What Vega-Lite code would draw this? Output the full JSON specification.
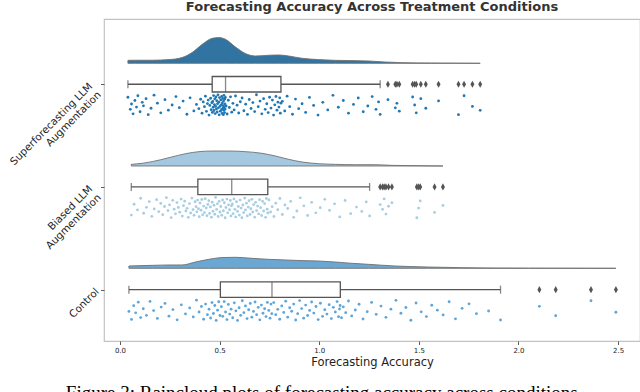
{
  "$schema": "https://vega.github.io/schema/vega-lite/v6.json",
  "background": "white",
  "padding": {"left": 7, "top": 0, "right": 0, "bottom": 0},
  "title": {"text": "Figure 3: Raincloud plots of forecasting accuracy across conditions.", "orient": "bottom", "font": "Liberation Serif", "fontSize": 19, "fontWeight": "normal", "color": "#000000", "offset": 16, "anchor": "middle"},
  "datasets": {
    "boxes": [
      {"c": "S", "lo": 0.04, "q1": 0.463, "med": 0.53, "q3": 0.808, "hi": 1.306},
      {"c": "B", "lo": 0.057, "q1": 0.391, "med": 0.561, "q3": 0.742, "hi": 1.253},
      {"c": "C", "lo": 0.045, "q1": 0.504, "med": 0.763, "q3": 1.106, "hi": 1.91}
    ],
    "outliers": [
      {"c": "S", "v": 1.345}, {"c": "S", "v": 1.382}, {"c": "S", "v": 1.39}, {"c": "S", "v": 1.402}, {"c": "S", "v": 1.469}, {"c": "S", "v": 1.479}, {"c": "S", "v": 1.487}, {"c": "S", "v": 1.51}, {"c": "S", "v": 1.535}, {"c": "S", "v": 1.599}, {"c": "S", "v": 1.699}, {"c": "S", "v": 1.727}, {"c": "S", "v": 1.769}, {"c": "S", "v": 1.808},
      {"c": "B", "v": 1.306}, {"c": "B", "v": 1.318}, {"c": "B", "v": 1.326}, {"c": "B", "v": 1.335}, {"c": "B", "v": 1.348}, {"c": "B", "v": 1.365}, {"c": "B", "v": 1.49}, {"c": "B", "v": 1.499}, {"c": "B", "v": 1.507}, {"c": "B", "v": 1.579}, {"c": "B", "v": 1.621},
      {"c": "C", "v": 2.105}, {"c": "C", "v": 2.187}, {"c": "C", "v": 2.364}, {"c": "C", "v": 2.489}
    ],
    "violin": [
      {"c": "S", "v": 0.04, "d": 0.23}, {"c": "S", "v": 0.078, "d": 0.24}, {"c": "S", "v": 0.162, "d": 0.24}, {"c": "S", "v": 0.246, "d": 0.29}, {"c": "S", "v": 0.312, "d": 0.45}, {"c": "S", "v": 0.362, "d": 0.84}, {"c": "S", "v": 0.413, "d": 1.48}, {"c": "S", "v": 0.463, "d": 1.95}, {"c": "S", "v": 0.496, "d": 2.01}, {"c": "S", "v": 0.529, "d": 1.88}, {"c": "S", "v": 0.58, "d": 1.27}, {"c": "S", "v": 0.63, "d": 0.76}, {"c": "S", "v": 0.68, "d": 0.57}, {"c": "S", "v": 0.747, "d": 0.63}, {"c": "S", "v": 0.797, "d": 0.65}, {"c": "S", "v": 0.847, "d": 0.57}, {"c": "S", "v": 0.914, "d": 0.39}, {"c": "S", "v": 0.997, "d": 0.29}, {"c": "S", "v": 1.081, "d": 0.23}, {"c": "S", "v": 1.164, "d": 0.21}, {"c": "S", "v": 1.248, "d": 0.18}, {"c": "S", "v": 1.331, "d": 0.1}, {"c": "S", "v": 1.415, "d": 0.05}, {"c": "S", "v": 1.565, "d": 0.02}, {"c": "S", "v": 1.808, "d": 0.0},
      {"c": "B", "v": 0.057, "d": 0.13}, {"c": "B", "v": 0.112, "d": 0.21}, {"c": "B", "v": 0.162, "d": 0.34}, {"c": "B", "v": 0.246, "d": 0.65}, {"c": "B", "v": 0.329, "d": 0.96}, {"c": "B", "v": 0.396, "d": 1.12}, {"c": "B", "v": 0.463, "d": 1.17}, {"c": "B", "v": 0.546, "d": 1.17}, {"c": "B", "v": 0.63, "d": 1.12}, {"c": "B", "v": 0.713, "d": 0.99}, {"c": "B", "v": 0.78, "d": 0.78}, {"c": "B", "v": 0.847, "d": 0.52}, {"c": "B", "v": 0.914, "d": 0.31}, {"c": "B", "v": 0.997, "d": 0.18}, {"c": "B", "v": 1.081, "d": 0.13}, {"c": "B", "v": 1.181, "d": 0.1}, {"c": "B", "v": 1.281, "d": 0.1}, {"c": "B", "v": 1.365, "d": 0.05}, {"c": "B", "v": 1.515, "d": 0.02}, {"c": "B", "v": 1.621, "d": 0.0},
      {"c": "C", "v": 0.045, "d": 0.18}, {"c": "C", "v": 0.162, "d": 0.23}, {"c": "C", "v": 0.246, "d": 0.26}, {"c": "C", "v": 0.312, "d": 0.26}, {"c": "C", "v": 0.379, "d": 0.49}, {"c": "C", "v": 0.446, "d": 0.7}, {"c": "C", "v": 0.513, "d": 0.84}, {"c": "C", "v": 0.58, "d": 0.86}, {"c": "C", "v": 0.663, "d": 0.78}, {"c": "C", "v": 0.747, "d": 0.7}, {"c": "C", "v": 0.83, "d": 0.65}, {"c": "C", "v": 0.914, "d": 0.6}, {"c": "C", "v": 0.997, "d": 0.57}, {"c": "C", "v": 1.081, "d": 0.49}, {"c": "C", "v": 1.164, "d": 0.39}, {"c": "C", "v": 1.248, "d": 0.31}, {"c": "C", "v": 1.381, "d": 0.18}, {"c": "C", "v": 1.549, "d": 0.1}, {"c": "C", "v": 1.716, "d": 0.05}, {"c": "C", "v": 1.883, "d": 0.02}, {"c": "C", "v": 2.05, "d": 0.01}, {"c": "C", "v": 2.489, "d": 0.0}
    ],
    "points": [
      {"c": "S", "v": 0.04, "j": 0.12}, {"c": "S", "v": 0.052, "j": 0.71}, {"c": "S", "v": 0.058, "j": 0.45}, {"c": "S", "v": 0.066, "j": 0.93}, {"c": "S", "v": 0.075, "j": 0.28}, {"c": "S", "v": 0.083, "j": 0.6}, {"c": "S", "v": 0.09, "j": 0.05}, {"c": "S", "v": 0.101, "j": 0.83}, {"c": "S", "v": 0.112, "j": 0.37}, {"c": "S", "v": 0.118, "j": 0.54},
      {"c": "S", "v": 0.131, "j": 0.19}, {"c": "S", "v": 0.142, "j": 0.97}, {"c": "S", "v": 0.156, "j": 0.66}, {"c": "S", "v": 0.171, "j": 0.02}, {"c": "S", "v": 0.188, "j": 0.41}, {"c": "S", "v": 0.205, "j": 0.88}, {"c": "S", "v": 0.226, "j": 0.24}, {"c": "S", "v": 0.243, "j": 0.75}, {"c": "S", "v": 0.262, "j": 0.5}, {"c": "S", "v": 0.281, "j": 0.09},
      {"c": "S", "v": 0.298, "j": 0.63}, {"c": "S", "v": 0.317, "j": 0.31}, {"c": "S", "v": 0.336, "j": 0.95}, {"c": "S", "v": 0.352, "j": 0.15}, {"c": "S", "v": 0.371, "j": 0.79}, {"c": "S", "v": 0.384, "j": 0.47}, {"c": "S", "v": 0.396, "j": 0.68}, {"c": "S", "v": 0.405, "j": 0.22}, {"c": "S", "v": 0.412, "j": 0.9}, {"c": "S", "v": 0.418, "j": 0.35},
      {"c": "S", "v": 0.424, "j": 0.58}, {"c": "S", "v": 0.429, "j": 0.07}, {"c": "S", "v": 0.434, "j": 0.81}, {"c": "S", "v": 0.439, "j": 0.43}, {"c": "S", "v": 0.443, "j": 0.26}, {"c": "S", "v": 0.447, "j": 0.99}, {"c": "S", "v": 0.451, "j": 0.52}, {"c": "S", "v": 0.455, "j": 0.17}, {"c": "S", "v": 0.458, "j": 0.73}, {"c": "S", "v": 0.461, "j": 0.39},
      {"c": "S", "v": 0.464, "j": 0.86}, {"c": "S", "v": 0.466, "j": 0.33}, {"c": "S", "v": 0.468, "j": 0.61}, {"c": "S", "v": 0.47, "j": 0.04}, {"c": "S", "v": 0.472, "j": 0.77}, {"c": "S", "v": 0.474, "j": 0.48}, {"c": "S", "v": 0.476, "j": 0.2}, {"c": "S", "v": 0.478, "j": 0.92}, {"c": "S", "v": 0.48, "j": 0.56}, {"c": "S", "v": 0.482, "j": 0.11},
      {"c": "S", "v": 0.484, "j": 0.69}, {"c": "S", "v": 0.486, "j": 0.29}, {"c": "S", "v": 0.488, "j": 0.84}, {"c": "S", "v": 0.49, "j": 0.44}, {"c": "S", "v": 0.492, "j": 0.01}, {"c": "S", "v": 0.494, "j": 0.64}, {"c": "S", "v": 0.496, "j": 0.36}, {"c": "S", "v": 0.498, "j": 0.98}, {"c": "S", "v": 0.5, "j": 0.14}, {"c": "S", "v": 0.502, "j": 0.57},
      {"c": "S", "v": 0.504, "j": 0.8}, {"c": "S", "v": 0.506, "j": 0.25}, {"c": "S", "v": 0.508, "j": 0.49}, {"c": "S", "v": 0.51, "j": 0.72}, {"c": "S", "v": 0.511, "j": 0.08}, {"c": "S", "v": 0.513, "j": 0.91}, {"c": "S", "v": 0.514, "j": 0.4}, {"c": "S", "v": 0.516, "j": 0.18}, {"c": "S", "v": 0.517, "j": 0.66}, {"c": "S", "v": 0.518, "j": 0.53},
      {"c": "S", "v": 0.519, "j": 0.97}, {"c": "S", "v": 0.52, "j": 0.3}, {"c": "S", "v": 0.521, "j": 0.76}, {"c": "S", "v": 0.522, "j": 0.03}, {"c": "S", "v": 0.524, "j": 0.59}, {"c": "S", "v": 0.525, "j": 0.87}, {"c": "S", "v": 0.526, "j": 0.21}, {"c": "S", "v": 0.527, "j": 0.45}, {"c": "S", "v": 0.528, "j": 0.7}, {"c": "S", "v": 0.529, "j": 0.13},
      {"c": "S", "v": 0.533, "j": 0.55}, {"c": "S", "v": 0.538, "j": 0.94}, {"c": "S", "v": 0.544, "j": 0.27}, {"c": "S", "v": 0.549, "j": 0.62}, {"c": "S", "v": 0.555, "j": 0.1}, {"c": "S", "v": 0.561, "j": 0.85}, {"c": "S", "v": 0.567, "j": 0.42}, {"c": "S", "v": 0.573, "j": 0.74}, {"c": "S", "v": 0.58, "j": 0.06}, {"c": "S", "v": 0.588, "j": 0.51},
      {"c": "S", "v": 0.596, "j": 0.89}, {"c": "S", "v": 0.604, "j": 0.34}, {"c": "S", "v": 0.613, "j": 0.16}, {"c": "S", "v": 0.622, "j": 0.78}, {"c": "S", "v": 0.631, "j": 0.46}, {"c": "S", "v": 0.64, "j": 0.96}, {"c": "S", "v": 0.649, "j": 0.23}, {"c": "S", "v": 0.658, "j": 0.67}, {"c": "S", "v": 0.667, "j": 0.38}, {"c": "S", "v": 0.676, "j": 0.82},
      {"c": "S", "v": 0.685, "j": 0.0}, {"c": "S", "v": 0.694, "j": 0.58}, {"c": "S", "v": 0.703, "j": 0.31}, {"c": "S", "v": 0.712, "j": 0.93}, {"c": "S", "v": 0.721, "j": 0.19}, {"c": "S", "v": 0.729, "j": 0.71}, {"c": "S", "v": 0.737, "j": 0.44}, {"c": "S", "v": 0.744, "j": 0.87}, {"c": "S", "v": 0.751, "j": 0.12}, {"c": "S", "v": 0.758, "j": 0.65},
      {"c": "S", "v": 0.765, "j": 0.26}, {"c": "S", "v": 0.771, "j": 0.99}, {"c": "S", "v": 0.777, "j": 0.49}, {"c": "S", "v": 0.783, "j": 0.08}, {"c": "S", "v": 0.788, "j": 0.75}, {"c": "S", "v": 0.793, "j": 0.36}, {"c": "S", "v": 0.798, "j": 0.6}, {"c": "S", "v": 0.802, "j": 0.15}, {"c": "S", "v": 0.805, "j": 0.9}, {"c": "S", "v": 0.808, "j": 0.41},
      {"c": "S", "v": 0.815, "j": 0.32}, {"c": "S", "v": 0.827, "j": 0.79}, {"c": "S", "v": 0.839, "j": 0.07}, {"c": "S", "v": 0.852, "j": 0.58}, {"c": "S", "v": 0.866, "j": 0.95}, {"c": "S", "v": 0.881, "j": 0.21}, {"c": "S", "v": 0.897, "j": 0.68}, {"c": "S", "v": 0.914, "j": 0.44}, {"c": "S", "v": 0.932, "j": 0.86}, {"c": "S", "v": 0.951, "j": 0.13},
      {"c": "S", "v": 0.972, "j": 0.52}, {"c": "S", "v": 0.994, "j": 0.99}, {"c": "S", "v": 1.018, "j": 0.37}, {"c": "S", "v": 1.043, "j": 0.74}, {"c": "S", "v": 1.069, "j": 0.03}, {"c": "S", "v": 1.096, "j": 0.61}, {"c": "S", "v": 1.121, "j": 0.28}, {"c": "S", "v": 1.147, "j": 0.9}, {"c": "S", "v": 1.172, "j": 0.47}, {"c": "S", "v": 1.196, "j": 0.16},
      {"c": "S", "v": 1.221, "j": 0.83}, {"c": "S", "v": 1.244, "j": 0.55}, {"c": "S", "v": 1.266, "j": 0.09}, {"c": "S", "v": 1.285, "j": 0.71}, {"c": "S", "v": 1.298, "j": 0.35}, {"c": "S", "v": 1.306, "j": 0.96}, {"c": "S", "v": 1.345, "j": 0.24}, {"c": "S", "v": 1.382, "j": 0.64}, {"c": "S", "v": 1.39, "j": 0.42}, {"c": "S", "v": 1.402, "j": 0.8},
      {"c": "S", "v": 1.469, "j": 0.11}, {"c": "S", "v": 1.479, "j": 0.5}, {"c": "S", "v": 1.487, "j": 0.88}, {"c": "S", "v": 1.51, "j": 0.19}, {"c": "S", "v": 1.535, "j": 0.66}, {"c": "S", "v": 1.599, "j": 0.3}, {"c": "S", "v": 1.699, "j": 0.97}, {"c": "S", "v": 1.727, "j": 0.05}, {"c": "S", "v": 1.769, "j": 0.57}, {"c": "S", "v": 1.808, "j": 0.76},
      {"c": "B", "v": 0.057, "j": 0.86}, {"c": "B", "v": 0.071, "j": 0.33}, {"c": "B", "v": 0.088, "j": 0.61}, {"c": "B", "v": 0.104, "j": 0.04}, {"c": "B", "v": 0.119, "j": 0.77}, {"c": "B", "v": 0.133, "j": 0.48}, {"c": "B", "v": 0.147, "j": 0.2}, {"c": "B", "v": 0.16, "j": 0.92}, {"c": "B", "v": 0.172, "j": 0.56}, {"c": "B", "v": 0.184, "j": 0.11},
      {"c": "B", "v": 0.195, "j": 0.69}, {"c": "B", "v": 0.205, "j": 0.29}, {"c": "B", "v": 0.215, "j": 0.84}, {"c": "B", "v": 0.224, "j": 0.44}, {"c": "B", "v": 0.233, "j": 0.01}, {"c": "B", "v": 0.241, "j": 0.64}, {"c": "B", "v": 0.249, "j": 0.36}, {"c": "B", "v": 0.257, "j": 0.98}, {"c": "B", "v": 0.265, "j": 0.14}, {"c": "B", "v": 0.272, "j": 0.57},
      {"c": "B", "v": 0.279, "j": 0.8}, {"c": "B", "v": 0.286, "j": 0.25}, {"c": "B", "v": 0.293, "j": 0.49}, {"c": "B", "v": 0.3, "j": 0.72}, {"c": "B", "v": 0.307, "j": 0.08}, {"c": "B", "v": 0.313, "j": 0.91}, {"c": "B", "v": 0.319, "j": 0.4}, {"c": "B", "v": 0.325, "j": 0.18}, {"c": "B", "v": 0.331, "j": 0.66}, {"c": "B", "v": 0.337, "j": 0.53},
      {"c": "B", "v": 0.343, "j": 0.97}, {"c": "B", "v": 0.349, "j": 0.3}, {"c": "B", "v": 0.355, "j": 0.76}, {"c": "B", "v": 0.361, "j": 0.03}, {"c": "B", "v": 0.367, "j": 0.59}, {"c": "B", "v": 0.372, "j": 0.87}, {"c": "B", "v": 0.377, "j": 0.21}, {"c": "B", "v": 0.382, "j": 0.45}, {"c": "B", "v": 0.386, "j": 0.7}, {"c": "B", "v": 0.39, "j": 0.13},
      {"c": "B", "v": 0.394, "j": 0.55}, {"c": "B", "v": 0.398, "j": 0.94}, {"c": "B", "v": 0.402, "j": 0.27}, {"c": "B", "v": 0.407, "j": 0.62}, {"c": "B", "v": 0.411, "j": 0.1}, {"c": "B", "v": 0.415, "j": 0.85}, {"c": "B", "v": 0.42, "j": 0.42}, {"c": "B", "v": 0.424, "j": 0.74}, {"c": "B", "v": 0.428, "j": 0.06}, {"c": "B", "v": 0.433, "j": 0.51},
      {"c": "B", "v": 0.437, "j": 0.89}, {"c": "B", "v": 0.441, "j": 0.34}, {"c": "B", "v": 0.446, "j": 0.16}, {"c": "B", "v": 0.45, "j": 0.78}, {"c": "B", "v": 0.454, "j": 0.46}, {"c": "B", "v": 0.459, "j": 0.96}, {"c": "B", "v": 0.463, "j": 0.23}, {"c": "B", "v": 0.467, "j": 0.67}, {"c": "B", "v": 0.472, "j": 0.38}, {"c": "B", "v": 0.476, "j": 0.82},
      {"c": "B", "v": 0.48, "j": 0.0}, {"c": "B", "v": 0.485, "j": 0.58}, {"c": "B", "v": 0.489, "j": 0.31}, {"c": "B", "v": 0.493, "j": 0.93}, {"c": "B", "v": 0.498, "j": 0.19}, {"c": "B", "v": 0.502, "j": 0.71}, {"c": "B", "v": 0.506, "j": 0.44}, {"c": "B", "v": 0.511, "j": 0.87}, {"c": "B", "v": 0.515, "j": 0.12}, {"c": "B", "v": 0.519, "j": 0.65},
      {"c": "B", "v": 0.524, "j": 0.26}, {"c": "B", "v": 0.528, "j": 0.99}, {"c": "B", "v": 0.532, "j": 0.49}, {"c": "B", "v": 0.537, "j": 0.08}, {"c": "B", "v": 0.541, "j": 0.75}, {"c": "B", "v": 0.545, "j": 0.36}, {"c": "B", "v": 0.55, "j": 0.6}, {"c": "B", "v": 0.554, "j": 0.15}, {"c": "B", "v": 0.557, "j": 0.9}, {"c": "B", "v": 0.56, "j": 0.41},
      {"c": "B", "v": 0.564, "j": 0.32}, {"c": "B", "v": 0.568, "j": 0.79}, {"c": "B", "v": 0.572, "j": 0.07}, {"c": "B", "v": 0.577, "j": 0.58}, {"c": "B", "v": 0.581, "j": 0.95}, {"c": "B", "v": 0.585, "j": 0.21}, {"c": "B", "v": 0.59, "j": 0.68}, {"c": "B", "v": 0.594, "j": 0.44}, {"c": "B", "v": 0.599, "j": 0.86}, {"c": "B", "v": 0.603, "j": 0.13},
      {"c": "B", "v": 0.608, "j": 0.52}, {"c": "B", "v": 0.612, "j": 0.99}, {"c": "B", "v": 0.617, "j": 0.37}, {"c": "B", "v": 0.621, "j": 0.74}, {"c": "B", "v": 0.626, "j": 0.03}, {"c": "B", "v": 0.63, "j": 0.61}, {"c": "B", "v": 0.635, "j": 0.28}, {"c": "B", "v": 0.639, "j": 0.9}, {"c": "B", "v": 0.644, "j": 0.47}, {"c": "B", "v": 0.648, "j": 0.16},
      {"c": "B", "v": 0.653, "j": 0.83}, {"c": "B", "v": 0.657, "j": 0.55}, {"c": "B", "v": 0.662, "j": 0.09}, {"c": "B", "v": 0.667, "j": 0.71}, {"c": "B", "v": 0.671, "j": 0.35}, {"c": "B", "v": 0.676, "j": 0.96}, {"c": "B", "v": 0.681, "j": 0.24}, {"c": "B", "v": 0.686, "j": 0.64}, {"c": "B", "v": 0.691, "j": 0.42}, {"c": "B", "v": 0.696, "j": 0.8},
      {"c": "B", "v": 0.701, "j": 0.11}, {"c": "B", "v": 0.706, "j": 0.5}, {"c": "B", "v": 0.711, "j": 0.88}, {"c": "B", "v": 0.716, "j": 0.19}, {"c": "B", "v": 0.721, "j": 0.66}, {"c": "B", "v": 0.726, "j": 0.3}, {"c": "B", "v": 0.731, "j": 0.97}, {"c": "B", "v": 0.735, "j": 0.05}, {"c": "B", "v": 0.739, "j": 0.57}, {"c": "B", "v": 0.742, "j": 0.76},
      {"c": "B", "v": 0.748, "j": 0.12}, {"c": "B", "v": 0.756, "j": 0.71}, {"c": "B", "v": 0.764, "j": 0.45}, {"c": "B", "v": 0.773, "j": 0.93}, {"c": "B", "v": 0.782, "j": 0.28}, {"c": "B", "v": 0.792, "j": 0.6}, {"c": "B", "v": 0.803, "j": 0.05}, {"c": "B", "v": 0.815, "j": 0.83}, {"c": "B", "v": 0.828, "j": 0.37}, {"c": "B", "v": 0.842, "j": 0.54},
      {"c": "B", "v": 0.857, "j": 0.19}, {"c": "B", "v": 0.872, "j": 0.97}, {"c": "B", "v": 0.888, "j": 0.66}, {"c": "B", "v": 0.905, "j": 0.02}, {"c": "B", "v": 0.923, "j": 0.41}, {"c": "B", "v": 0.942, "j": 0.88}, {"c": "B", "v": 0.962, "j": 0.24}, {"c": "B", "v": 0.983, "j": 0.75}, {"c": "B", "v": 1.005, "j": 0.5}, {"c": "B", "v": 1.028, "j": 0.09},
      {"c": "B", "v": 1.052, "j": 0.63}, {"c": "B", "v": 1.077, "j": 0.31}, {"c": "B", "v": 1.103, "j": 0.95}, {"c": "B", "v": 1.13, "j": 0.15}, {"c": "B", "v": 1.158, "j": 0.79}, {"c": "B", "v": 1.187, "j": 0.47}, {"c": "B", "v": 1.214, "j": 0.68}, {"c": "B", "v": 1.236, "j": 0.22}, {"c": "B", "v": 1.253, "j": 0.9}, {"c": "B", "v": 1.306, "j": 0.35},
      {"c": "B", "v": 1.318, "j": 0.58}, {"c": "B", "v": 1.326, "j": 0.07}, {"c": "B", "v": 1.335, "j": 0.81}, {"c": "B", "v": 1.348, "j": 0.43}, {"c": "B", "v": 1.365, "j": 0.26}, {"c": "B", "v": 1.49, "j": 0.99}, {"c": "B", "v": 1.499, "j": 0.52}, {"c": "B", "v": 1.507, "j": 0.17}, {"c": "B", "v": 1.579, "j": 0.73}, {"c": "B", "v": 1.621, "j": 0.39},
      {"c": "C", "v": 0.045, "j": 0.55}, {"c": "C", "v": 0.058, "j": 0.94}, {"c": "C", "v": 0.069, "j": 0.27}, {"c": "C", "v": 0.079, "j": 0.62}, {"c": "C", "v": 0.092, "j": 0.1}, {"c": "C", "v": 0.104, "j": 0.85}, {"c": "C", "v": 0.117, "j": 0.42}, {"c": "C", "v": 0.133, "j": 0.74}, {"c": "C", "v": 0.151, "j": 0.06}, {"c": "C", "v": 0.169, "j": 0.51},
      {"c": "C", "v": 0.188, "j": 0.89}, {"c": "C", "v": 0.207, "j": 0.34}, {"c": "C", "v": 0.226, "j": 0.16}, {"c": "C", "v": 0.246, "j": 0.78}, {"c": "C", "v": 0.266, "j": 0.46}, {"c": "C", "v": 0.287, "j": 0.96}, {"c": "C", "v": 0.308, "j": 0.23}, {"c": "C", "v": 0.329, "j": 0.67}, {"c": "C", "v": 0.35, "j": 0.38}, {"c": "C", "v": 0.368, "j": 0.82},
      {"c": "C", "v": 0.384, "j": 0.0}, {"c": "C", "v": 0.397, "j": 0.58}, {"c": "C", "v": 0.409, "j": 0.31}, {"c": "C", "v": 0.42, "j": 0.93}, {"c": "C", "v": 0.43, "j": 0.19}, {"c": "C", "v": 0.439, "j": 0.71}, {"c": "C", "v": 0.447, "j": 0.44}, {"c": "C", "v": 0.455, "j": 0.87}, {"c": "C", "v": 0.462, "j": 0.12}, {"c": "C", "v": 0.469, "j": 0.65},
      {"c": "C", "v": 0.476, "j": 0.26}, {"c": "C", "v": 0.483, "j": 0.99}, {"c": "C", "v": 0.49, "j": 0.49}, {"c": "C", "v": 0.496, "j": 0.08}, {"c": "C", "v": 0.502, "j": 0.75},
      {"c": "C", "v": 0.509, "j": 0.32}, {"c": "C", "v": 0.516, "j": 0.79}, {"c": "C", "v": 0.523, "j": 0.07}, {"c": "C", "v": 0.53, "j": 0.58}, {"c": "C", "v": 0.537, "j": 0.95}, {"c": "C", "v": 0.544, "j": 0.21}, {"c": "C", "v": 0.551, "j": 0.68}, {"c": "C", "v": 0.558, "j": 0.44}, {"c": "C", "v": 0.566, "j": 0.86}, {"c": "C", "v": 0.574, "j": 0.13},
      {"c": "C", "v": 0.582, "j": 0.52}, {"c": "C", "v": 0.59, "j": 0.99}, {"c": "C", "v": 0.598, "j": 0.37}, {"c": "C", "v": 0.606, "j": 0.74}, {"c": "C", "v": 0.614, "j": 0.03}, {"c": "C", "v": 0.622, "j": 0.61}, {"c": "C", "v": 0.63, "j": 0.28}, {"c": "C", "v": 0.638, "j": 0.9}, {"c": "C", "v": 0.646, "j": 0.47}, {"c": "C", "v": 0.654, "j": 0.16},
      {"c": "C", "v": 0.662, "j": 0.83}, {"c": "C", "v": 0.67, "j": 0.55}, {"c": "C", "v": 0.678, "j": 0.09}, {"c": "C", "v": 0.686, "j": 0.71}, {"c": "C", "v": 0.694, "j": 0.35}, {"c": "C", "v": 0.702, "j": 0.96}, {"c": "C", "v": 0.71, "j": 0.24}, {"c": "C", "v": 0.718, "j": 0.64}, {"c": "C", "v": 0.726, "j": 0.42}, {"c": "C", "v": 0.733, "j": 0.8},
      {"c": "C", "v": 0.74, "j": 0.11}, {"c": "C", "v": 0.747, "j": 0.5}, {"c": "C", "v": 0.753, "j": 0.88}, {"c": "C", "v": 0.758, "j": 0.19}, {"c": "C", "v": 0.762, "j": 0.66},
      {"c": "C", "v": 0.772, "j": 0.12}, {"c": "C", "v": 0.782, "j": 0.71}, {"c": "C", "v": 0.792, "j": 0.45}, {"c": "C", "v": 0.802, "j": 0.93}, {"c": "C", "v": 0.812, "j": 0.28}, {"c": "C", "v": 0.822, "j": 0.6}, {"c": "C", "v": 0.832, "j": 0.05}, {"c": "C", "v": 0.842, "j": 0.83}, {"c": "C", "v": 0.852, "j": 0.37}, {"c": "C", "v": 0.862, "j": 0.54},
      {"c": "C", "v": 0.872, "j": 0.19}, {"c": "C", "v": 0.882, "j": 0.97}, {"c": "C", "v": 0.892, "j": 0.66}, {"c": "C", "v": 0.902, "j": 0.02}, {"c": "C", "v": 0.912, "j": 0.41}, {"c": "C", "v": 0.922, "j": 0.88}, {"c": "C", "v": 0.932, "j": 0.24}, {"c": "C", "v": 0.942, "j": 0.75}, {"c": "C", "v": 0.952, "j": 0.5}, {"c": "C", "v": 0.962, "j": 0.09},
      {"c": "C", "v": 0.973, "j": 0.63}, {"c": "C", "v": 0.984, "j": 0.31}, {"c": "C", "v": 0.995, "j": 0.95}, {"c": "C", "v": 1.006, "j": 0.15}, {"c": "C", "v": 1.017, "j": 0.79}, {"c": "C", "v": 1.028, "j": 0.47}, {"c": "C", "v": 1.039, "j": 0.68}, {"c": "C", "v": 1.05, "j": 0.22}, {"c": "C", "v": 1.061, "j": 0.9}, {"c": "C", "v": 1.071, "j": 0.35},
      {"c": "C", "v": 1.081, "j": 0.58}, {"c": "C", "v": 1.09, "j": 0.07}, {"c": "C", "v": 1.097, "j": 0.81}, {"c": "C", "v": 1.102, "j": 0.43}, {"c": "C", "v": 1.105, "j": 0.26},
      {"c": "C", "v": 1.112, "j": 0.86}, {"c": "C", "v": 1.121, "j": 0.33}, {"c": "C", "v": 1.133, "j": 0.61}, {"c": "C", "v": 1.147, "j": 0.04}, {"c": "C", "v": 1.163, "j": 0.77}, {"c": "C", "v": 1.181, "j": 0.48}, {"c": "C", "v": 1.2, "j": 0.2}, {"c": "C", "v": 1.22, "j": 0.92}, {"c": "C", "v": 1.241, "j": 0.56}, {"c": "C", "v": 1.263, "j": 0.11},
      {"c": "C", "v": 1.286, "j": 0.69}, {"c": "C", "v": 1.31, "j": 0.29}, {"c": "C", "v": 1.335, "j": 0.84}, {"c": "C", "v": 1.36, "j": 0.44}, {"c": "C", "v": 1.385, "j": 0.01}, {"c": "C", "v": 1.41, "j": 0.64}, {"c": "C", "v": 1.435, "j": 0.36}, {"c": "C", "v": 1.46, "j": 0.98}, {"c": "C", "v": 1.486, "j": 0.14}, {"c": "C", "v": 1.512, "j": 0.57},
      {"c": "C", "v": 1.538, "j": 0.8}, {"c": "C", "v": 1.565, "j": 0.25}, {"c": "C", "v": 1.593, "j": 0.49}, {"c": "C", "v": 1.622, "j": 0.72}, {"c": "C", "v": 1.652, "j": 0.08}, {"c": "C", "v": 1.684, "j": 0.91}, {"c": "C", "v": 1.717, "j": 0.4}, {"c": "C", "v": 1.752, "j": 0.18}, {"c": "C", "v": 1.789, "j": 0.66}, {"c": "C", "v": 1.85, "j": 0.53},
      {"c": "C", "v": 1.91, "j": 0.97}, {"c": "C", "v": 2.105, "j": 0.3}, {"c": "C", "v": 2.187, "j": 0.76}, {"c": "C", "v": 2.364, "j": 0.03}, {"c": "C", "v": 2.489, "j": 0.59}
    ]
  },
  "vconcat": [
    {
      "width": 536,
      "height": 322,
      "title": {"text": "Forecasting Accuracy Across Treatment Conditions", "font": "DejaVu Sans", "fontSize": 13, "fontWeight": "bold", "color": "#333333", "anchor": "middle", "offset": 5},
      "layer": [
        {
          "layer": [
            {
              "data": {"name": "boxes"},
              "mark": {"type": "rule", "color": "#555555", "strokeWidth": 1.3},
              "encoding": {
                "x": {"field": "lo", "type": "quantitative", "scale": {"domain": [-0.08, 2.61], "nice": false, "zero": false}, "title": "Forecasting Accuracy", "axis": {"values": [0, 0.5, 1, 1.5, 2, 2.5], "format": ".1f", "labelFontSize": 7, "labelPadding": 1.5, "titleFontSize": 11.5, "titlePadding": 3}},
                "x2": {"field": "q1"},
                "y": {"field": "c", "type": "nominal", "title": null, "scale": {"type": "point", "domain": ["S", "B", "C"], "padding": 0.5677, "align": 0.5596}, "axis": {"labelAngle": -45, "labelAlign": "right", "labelBaseline": "middle", "labelFontSize": 10.3, "labelPadding": {"condition": {"test": "datum.value == 'C'", "value": 3.5}, "value": 10}, "labelLineHeight": 12, "labelExpr": "datum.value == 'S' ? ['Superforecasting LLM', 'Augmentation'] : datum.value == 'B' ? ['Biased LLM', 'Augmentation'] : 'Control'"}}
              }
            },
            {
              "data": {"name": "boxes"},
              "mark": {"type": "rule", "color": "#555555", "strokeWidth": 1.3},
              "encoding": {
                "x": {"field": "q3", "type": "quantitative", "scale": {"domain": [-0.08, 2.61], "nice": false, "zero": false}, "title": "Forecasting Accuracy"},
                "x2": {"field": "hi"},
                "y": {"field": "c", "type": "nominal", "title": null}
              }
            },
            {
              "data": {"name": "boxes"},
              "mark": {"type": "tick", "color": "#555555", "size": 8, "thickness": 1.3},
              "encoding": {
                "x": {"field": "lo", "type": "quantitative", "scale": {"domain": [-0.08, 2.61], "nice": false, "zero": false}, "title": "Forecasting Accuracy"},
                "y": {"field": "c", "type": "nominal", "title": null}
              }
            },
            {
              "data": {"name": "boxes"},
              "mark": {"type": "tick", "color": "#555555", "size": 8, "thickness": 1.3},
              "encoding": {
                "x": {"field": "hi", "type": "quantitative", "scale": {"domain": [-0.08, 2.61], "nice": false, "zero": false}, "title": "Forecasting Accuracy"},
                "y": {"field": "c", "type": "nominal", "title": null}
              }
            },
            {
              "data": {"name": "boxes"},
              "mark": {"type": "bar", "fill": "white", "stroke": "#555555", "strokeWidth": 1.3, "size": 15.5, "orient": "horizontal"},
              "encoding": {
                "x": {"field": "q1", "type": "quantitative", "scale": {"domain": [-0.08, 2.61], "nice": false, "zero": false}, "title": "Forecasting Accuracy"},
                "x2": {"field": "q3"},
                "y": {"field": "c", "type": "nominal", "title": null}
              }
            },
            {
              "data": {"name": "boxes"},
              "mark": {"type": "tick", "color": "#555555", "size": 15.5, "thickness": 1.3},
              "encoding": {
                "x": {"field": "med", "type": "quantitative", "scale": {"domain": [-0.08, 2.61], "nice": false, "zero": false}, "title": "Forecasting Accuracy"},
                "y": {"field": "c", "type": "nominal", "title": null}
              }
            },
            {
              "data": {"name": "outliers"},
              "mark": {"type": "point", "shape": "M0,-1L0.55,0L0,1L-0.55,0Z", "filled": true, "color": "#555555", "size": 52, "opacity": 1},
              "encoding": {
                "x": {"field": "v", "type": "quantitative", "scale": {"domain": [-0.08, 2.61], "nice": false, "zero": false}, "title": "Forecasting Accuracy"},
                "y": {"field": "c", "type": "nominal", "title": null}
              }
            },
            {
              "data": {"name": "points"},
              "mark": {"type": "circle", "size": 8, "opacity": 1},
              "encoding": {
                "x": {"field": "v", "type": "quantitative", "scale": {"domain": [-0.08, 2.61], "nice": false, "zero": false}, "title": "Forecasting Accuracy"},
                "y": {"field": "c", "type": "nominal", "title": null},
                "yOffset": {"field": "j", "type": "quantitative", "scale": {"domain": [0, 1], "range": [10.5, 31]}},
                "color": {"field": "c", "type": "nominal", "scale": {"domain": ["S", "B", "C"], "range": ["#1f77b4", "#a6cee3", "#5ea5d8"]}, "legend": null}
              }
            }
          ]
        },
        {
          "data": {"name": "violin"},
          "transform": [{"filter": "datum.c == 'S'"}],
          "mark": {"type": "area", "color": "#3274a1", "fillOpacity": 1, "stroke": "#707070", "strokeWidth": 0.9, "interpolate": "monotone"},
          "encoding": {
            "x": {"field": "v", "type": "quantitative", "scale": {"domain": [-0.08, 2.61], "nice": false, "zero": false}, "title": "Forecasting Accuracy"},
            "y": {"field": "d", "type": "quantitative", "scale": {"domain": [-21.695, 3.461], "nice": false, "zero": false}, "axis": null},
            "y2": {"datum": 0}
          }
        },
        {
          "data": {"name": "violin"},
          "transform": [{"filter": "datum.c == 'B'"}],
          "mark": {"type": "area", "color": "#a3c8e0", "fillOpacity": 1, "stroke": "#707070", "strokeWidth": 0.9, "interpolate": "monotone"},
          "encoding": {
            "x": {"field": "v", "type": "quantitative", "scale": {"domain": [-0.08, 2.61], "nice": false, "zero": false}, "title": "Forecasting Accuracy"},
            "y": {"field": "d", "type": "quantitative", "scale": {"domain": [-13.672, 11.484], "nice": false, "zero": false}, "axis": null},
            "y2": {"datum": 0}
          }
        },
        {
          "data": {"name": "violin"},
          "transform": [{"filter": "datum.c == 'C'"}],
          "mark": {"type": "area", "color": "#6aa7d3", "fillOpacity": 1, "stroke": "#707070", "strokeWidth": 0.9, "interpolate": "monotone"},
          "encoding": {
            "x": {"field": "v", "type": "quantitative", "scale": {"domain": [-0.08, 2.61], "nice": false, "zero": false}, "title": "Forecasting Accuracy"},
            "y": {"field": "d", "type": "quantitative", "scale": {"domain": [-5.68, 19.477], "nice": false, "zero": false}, "axis": null},
            "y2": {"datum": 0}
          }
        }
      ],
      "resolve": {"scale": {"y": "independent"}}
    }
  ],
  "config": {
    "font": "DejaVu Sans",
    "view": {"stroke": "#c2c2c2", "strokeWidth": 1.2},
    "axis": {"grid": false, "domain": false, "tickColor": "#333333", "tickSize": 3.5, "tickWidth": 0.8, "labelColor": "#222222", "titleColor": "#222222", "titleFontWeight": "normal"}
  }
}
